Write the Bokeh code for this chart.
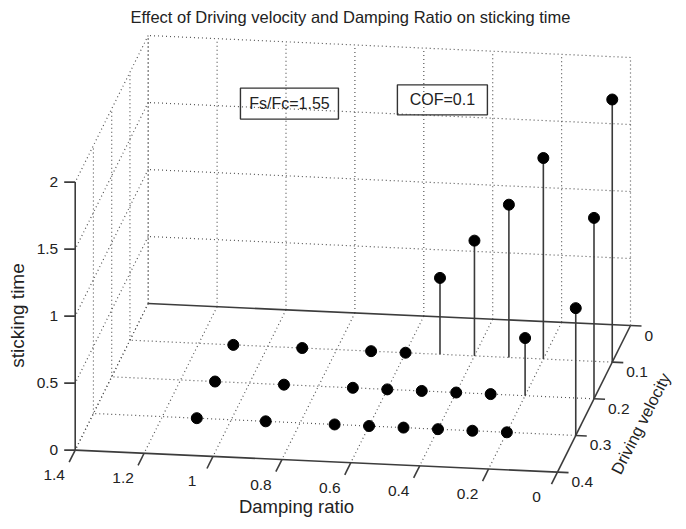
import numpy as np
from bokeh.plotting import figure
from bokeh.models import Range1d
from bokeh.core.properties import value
from bokeh.embed import file_html
from bokeh.resources import INLINE

# ---------------- data ----------------
title_text = "Effect of Driving velocity and Damping Ratio on sticking time"
x_label = "Damping ratio"
y_label = "Driving velocity"
z_label = "sticking time"

damping_ticks = [0.0, 0.2, 0.4, 0.6, 0.8, 1.0, 1.2, 1.4]
damping_tick_labels = ["0", "0.2", "0.4", "0.6", "0.8", "1", "1.2", "1.4"]
velocity_ticks = [0.0, 0.1, 0.2, 0.3, 0.4]
velocity_tick_labels = ["0", "0.1", "0.2", "0.3", "0.4"]
time_ticks = [0.0, 0.5, 1.0, 1.5, 2.0]
time_tick_labels = ["0", "0.5", "1", "1.5", "2"]

damping = [1.1, 0.9, 0.7, 0.6, 0.5, 0.4, 0.3, 0.2, 0.0]
velocity_rows = [0.1, 0.2, 0.3]
time_v01 = [0, 0, 0, 0, 0.57, 0.86, 1.14, 1.50, 1.96]
time_v02 = [0, 0, 0, 0, 0, 0, 0, 0.43, 1.35]
time_v03 = [0, 0, 0, 0, 0, 0, 0, 0, 0.95]

annotation_texts = ["Fs/Fc=1.55", "COF=0.1"]
annotation_damping = [0.99, 0.546]
annotation_velocity = [0.0, 0.0]
annotation_time = [1.54, 1.62]

# ---------------- view (3D -> screen) ----------------
W, H = 676, 519
ORIGIN = (630.0, 325.0)
EX = (-344.5, -15.7)
EY = (-182.5, 366.5)
EZ = (0.0, -134.0)

XMIN, XMAX = min(damping_ticks), max(damping_ticks)
YMIN, YMAX = min(velocity_ticks), max(velocity_ticks)
ZMIN, ZMAX = min(time_ticks), max(time_ticks)


def proj(x, y, z):
    x = np.asarray(x, float)
    y = np.asarray(y, float)
    z = np.asarray(z, float)
    sx = ORIGIN[0] + EX[0] * x + EY[0] * y + EZ[0] * z
    sy = ORIGIN[1] + EX[1] * x + EY[1] * y + EZ[1] * z
    return sx, H - sy


p = figure(width=W, height=H, output_backend="svg", toolbar_location=None,
           x_range=Range1d(0, W), y_range=Range1d(0, H),
           x_axis_type=None, y_axis_type=None, min_border=0)
p.outline_line_color = None
p.background_fill_color = "white"

FONT = value("Liberation Sans")
TXT = "#222222"
AXC = "#3c3c3c"

# ---------------- dotted grid ----------------
segs = []
# back wall (velocity = YMIN)
for xv in damping_ticks:
    segs.append(((xv, YMIN, ZMIN), (xv, YMIN, ZMAX)))
for zv in time_ticks[1:]:
    segs.append(((XMIN, YMIN, zv), (XMAX, YMIN, zv)))
# left wall (damping = XMAX)
for yv in velocity_ticks[:-1]:
    segs.append(((XMAX, yv, ZMIN), (XMAX, yv, ZMAX)))
for zv in time_ticks:
    segs.append(((XMAX, YMIN, zv), (XMAX, YMAX, zv)))
# floor (time = ZMIN)
for yv in velocity_ticks[1:-1]:
    segs.append(((XMIN, yv, ZMIN), (XMAX, yv, ZMIN)))
for xv in damping_ticks[1:]:
    segs.append(((xv, YMIN, ZMIN), (xv, YMAX, ZMIN)))

a = np.array([s[0] for s in segs])
b = np.array([s[1] for s in segs])
gx0, gy0 = proj(a[:, 0], a[:, 1], a[:, 2])
gx1, gy1 = proj(b[:, 0], b[:, 1], b[:, 2])
p.segment(gx0, gy0, gx1, gy1, line_color="#555555", line_width=1.2,
          line_dash="1 3")

# ---------------- solid axis lines ----------------
axes_segs = [
    ((XMAX, YMAX, ZMIN), (XMAX, YMAX, ZMAX)),   # z axis
    ((XMIN, YMAX, ZMIN), (XMAX, YMAX, ZMIN)),   # x axis (front)
    ((XMIN, YMIN, ZMIN), (XMIN, YMAX, ZMIN)),   # y axis (right)
    ((XMIN, YMIN, ZMIN), (XMAX, YMIN, ZMIN)),   # back bottom edge
]
a = np.array([s[0] for s in axes_segs])
b = np.array([s[1] for s in axes_segs])
ax0, ay0 = proj(a[:, 0], a[:, 1], a[:, 2])
ax1, ay1 = proj(b[:, 0], b[:, 1], b[:, 2])
p.segment(ax0, ay0, ax1, ay1, line_color=AXC, line_width=1.6)

# ticks and tick labels
n = len(damping_ticks)
tx0, ty0 = proj(damping_ticks, [YMAX] * n, [ZMIN] * n)
tx1, ty1 = proj(damping_ticks, [YMAX + 0.033] * n, [ZMIN] * n)
p.segment(tx0, ty0, tx1, ty1, line_color=AXC, line_width=1.6)
p.text(tx0 - 21, ty0 - 25, text=damping_tick_labels, text_align="center",
       text_baseline="middle", text_font=FONT, text_font_size="15.5px",
       text_color=TXT)

n = len(velocity_ticks)
vx0, vy0 = proj([XMIN] * n, velocity_ticks, [ZMIN] * n)
vx1, vy1 = proj([XMIN - 0.032] * n, velocity_ticks, [ZMIN] * n)
p.segment(vx0, vy0, vx1, vy1, line_color=AXC, line_width=1.6)
p.text(vx0 + 14, vy0 - 10, text=velocity_tick_labels, text_align="left",
       text_baseline="middle", text_font=FONT, text_font_size="15.5px",
       text_color=TXT)

n = len(time_ticks)
zx0, zy0 = proj([XMAX] * n, [YMAX] * n, time_ticks)
p.segment(zx0, zy0, zx0 - 11, zy0, line_color=AXC, line_width=1.6)
p.text(zx0 - 17, zy0, text=time_tick_labels, text_align="right",
       text_baseline="middle", text_font=FONT, text_font_size="15.5px",
       text_color=TXT)

# ---------------- stems ----------------
rows = [time_v01, time_v02, time_v03]
sx_all, sy_all, bx_all, by_all = [], [], [], []
for vel, times in zip(velocity_rows, rows):
    m = len(damping)
    bx, by = proj(damping, [vel] * m, [0] * m)
    sx, sy = proj(damping, [vel] * m, times)
    bx_all += list(bx); by_all += list(by)
    sx_all += list(sx); sy_all += list(sy)
p.segment(bx_all, by_all, sx_all, sy_all, line_color="#3a3a3a", line_width=1.6)
p.scatter(sx_all, sy_all, size=11, fill_color="black", line_color="black")

# ---------------- annotation boxes ----------------
bxs, bys = proj(annotation_damping, annotation_velocity, annotation_time)
p.rect(bxs, bys, width=[98, 90], height=[31, 30], width_units="screen",
       height_units="screen", fill_color=None, line_color="#333333",
       line_width=1.4)
p.text(bxs, bys, text=annotation_texts, text_align="center",
       text_baseline="middle", text_font=FONT, text_font_size="16px",
       text_color=TXT)

# ---------------- titles / labels ----------------
p.text([350], [H - 16], text=[title_text], text_align="center",
       text_baseline="middle", text_font=FONT, text_font_size="16.5px",
       text_color=TXT)
p.text([296], [H - 506], text=[x_label], text_align="center",
       text_baseline="middle", text_font=FONT, text_font_size="18.5px",
       text_color=TXT)
p.text([17], [H - 315], text=[z_label], text_align="center",
       text_baseline="middle", text_font=FONT, text_font_size="19px",
       text_color=TXT, angle=np.pi / 2)
p.text([640], [H - 423], text=[y_label], text_align="center",
       text_baseline="middle", text_font=FONT, text_font_size="16.5px",
       text_color=TXT, angle=np.radians(63))

open("out.html", "w").write(file_html(p, INLINE))
